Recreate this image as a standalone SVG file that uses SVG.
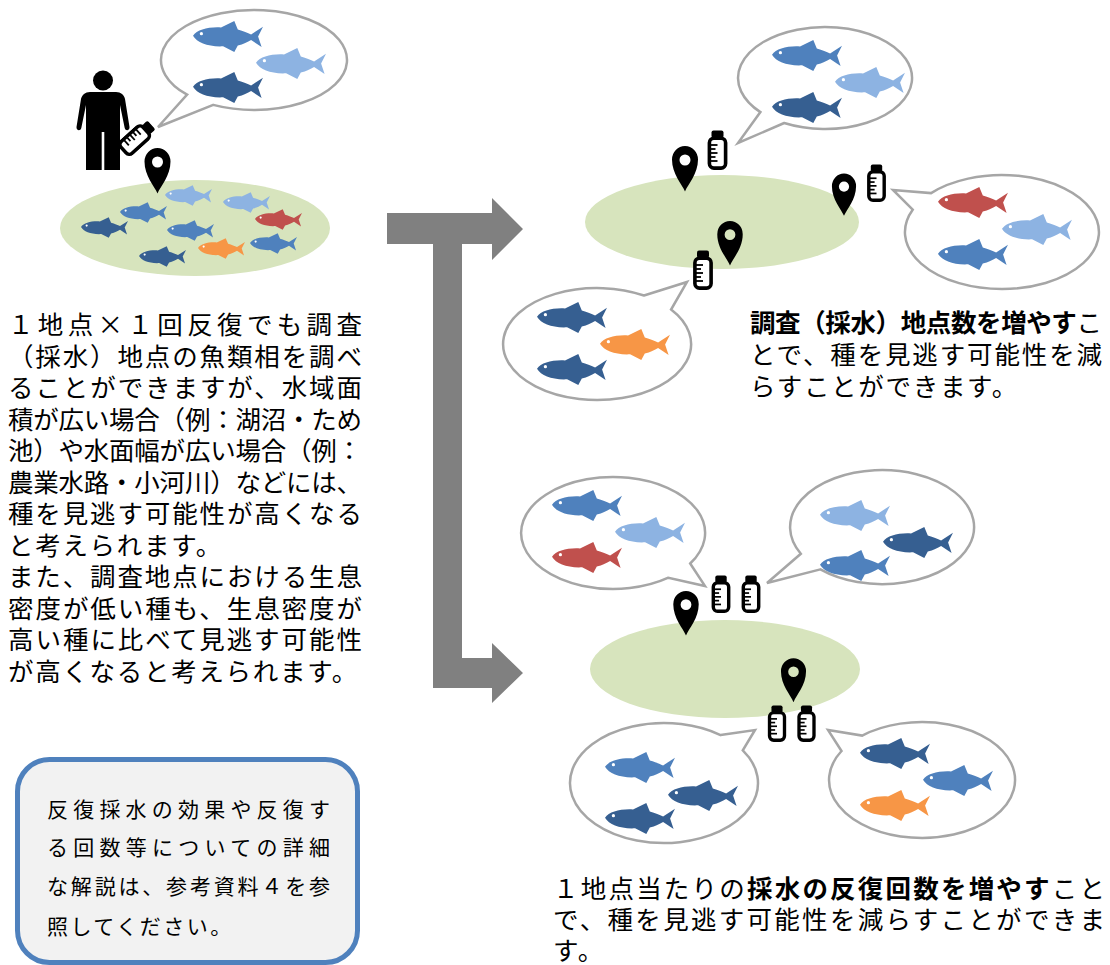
<svg xmlns="http://www.w3.org/2000/svg" xmlns:xlink="http://www.w3.org/1999/xlink" width="1110" height="965" viewBox="0 0 1110 965">
  <style>
    .bubble { fill: #ffffff; stroke: #A6A6A6; stroke-width: 2.5; stroke-linejoin: miter; }
    .pond { fill: #D7E4BD; }
    .arrow { fill: #808080; }
    .dk { fill: #365F91; }
    .md { fill: #4F81BD; }
    .lt { fill: #8DB3E2; }
    .rd { fill: #C0504D; }
    .or { fill: #F79646; }
    .ink { fill: #000000; }
    .txt { font-family: "Noto Sans CJK JP", "Noto Sans", sans-serif; font-size: 25.5px; fill: #000000; }
    .small { font-size: 21px; }
    .b { font-weight: bold; }
    .note { fill: #F2F2F2; stroke: #4F81BD; stroke-width: 5; }
  </style>
  <defs>
    <!-- fish facing left -->
    <symbol id="fish" viewBox="0 0 100 44">
      <path d="M0,21 C6,12 22,8 40,9 L59,0 L64,12 C72,14 78,17 83,19 L100,8 L93,22 L98,37 L83,27 C78,30 72,33 64,35 L59,44 L43,36 C22,37 6,31 0,21 Z"/>
      <circle cx="12" cy="18" r="2.3" fill="#ffffff"/>
    </symbol>
    <!-- map pin with hollow centre -->
    <symbol id="pin" viewBox="0 0 28 47">
      <path fill="#000000" fill-rule="evenodd" d="M14,46.5 C11,39 1,29 1,14.5 A13,13.5 0 0 1 27,14.5 C27,29 17,39 14,46.5 Z M14,9.5 A5.5,5.5 0 1 0 14,20.5 A5.5,5.5 0 1 0 14,9.5 Z"/>
    </symbol>
    <!-- sampling bottle -->
    <symbol id="bottle" viewBox="0 0 20 40">
      <rect x="4" y="0.5" width="12" height="7.5" rx="2" fill="#000000"/>
      <rect x="1.9" y="8.2" width="16.2" height="29.9" rx="4.5" fill="#ffffff" stroke="#000000" stroke-width="3.6"/>
      <g stroke="#000000" stroke-width="1.8">
        <line x1="3" y1="15" x2="10" y2="15"/>
        <line x1="3" y1="19" x2="8" y2="19"/>
        <line x1="3" y1="23" x2="10" y2="23"/>
        <line x1="3" y1="27" x2="8" y2="27"/>
        <line x1="3" y1="31" x2="10" y2="31"/>
      </g>
    </symbol>
  </defs>

  <!-- connectors: branching arrow -->
  <g id="connectors">
    <polygon class="arrow" points="387,213 492,213 492,198 523,229 492,260 492,244 462,244 462,658 492,658 492,643 523,673 492,703 492,688 433,688 433,244 387,244"/>
  </g>

  <!-- single sampling point -->
  <g id="bubble-single">
    <path class="bubble" d="M213.2,104.9 L158,127 L187.1,94.7 A93,50 0 1 1 213.2,104.9 Z"/>
    <use href="#fish" class="md" x="193" y="21" width="70" height="31"/>
    <use href="#fish" class="lt" x="256" y="48" width="70" height="31"/>
    <use href="#fish" class="dk" x="193" y="72" width="70" height="31"/>
  </g>

  <g id="person">
    <circle class="ink" cx="103" cy="80.5" r="10"/>
    <path class="ink" d="M90,92 H116 C121,92 124,95 125,99 L129.5,127 C130,130.5 125.5,131.5 124.7,128 L120,105 V170 H104.3 V132 H101.7 V170 H86 V105 L81.3,128 C80.5,131.5 76,130.5 76.5,127 L81,99 C82,95 85,92 90,92 Z"/>
    <use href="#bottle" width="20" height="40" transform="translate(137,138) rotate(48) translate(-10,-20)"/>
  </g>

  <g id="pond-single">
    <ellipse class="pond" cx="195" cy="228" rx="135" ry="48"/>
    <use href="#fish" class="lt" x="165" y="185" width="47" height="21"/>
    <use href="#fish" class="lt" x="223" y="192" width="47" height="21"/>
    <use href="#fish" class="md" x="120" y="202" width="47" height="21"/>
    <use href="#fish" class="rd" x="255" y="209" width="47" height="21"/>
    <use href="#fish" class="dk" x="81" y="217" width="47" height="21"/>
    <use href="#fish" class="md" x="167" y="220" width="47" height="21"/>
    <use href="#fish" class="or" x="198" y="238" width="47" height="21"/>
    <use href="#fish" class="md" x="250" y="233" width="47" height="21"/>
    <use href="#fish" class="dk" x="139" y="246" width="47" height="21"/>
    <use href="#pin" x="143" y="147" width="29" height="47"/>
  </g>

  <g id="text-left" class="txt">
    <text x="8" y="334" textLength="354" lengthAdjust="spacing">１地点×１回反復でも調査</text>
    <text x="8" y="365.5" textLength="354" lengthAdjust="spacing">（採水）地点の魚類相を調べ</text>
    <text x="8" y="397" textLength="354" lengthAdjust="spacing">ることができますが、水域面</text>
    <text x="8" y="428.5" textLength="354" lengthAdjust="spacing">積が広い場合（例：湖沼・ため</text>
    <text x="8" y="460" textLength="354" lengthAdjust="spacing">池）や水面幅が広い場合（例：</text>
    <text x="8" y="491.5" textLength="354" lengthAdjust="spacing">農業水路・小河川）などには、</text>
    <text x="8" y="523" textLength="354" lengthAdjust="spacing">種を見逃す可能性が高くなる</text>
    <text x="8" y="554.5" letter-spacing="1.7">と考えられます。</text>
    <text x="8" y="586" textLength="354" lengthAdjust="spacing">また、調査地点における生息</text>
    <text x="8" y="617.5" textLength="354" lengthAdjust="spacing">密度が低い種も、生息密度が</text>
    <text x="8" y="649" textLength="354" lengthAdjust="spacing">高い種に比べて見逃す可能性</text>
    <text x="8" y="680.5" letter-spacing="1.7">が高くなると考えられます。</text>
  </g>

  <g id="note-box">
    <rect class="note" x="17.5" y="759.5" width="340" height="203" rx="32"/>
    <g class="txt small">
      <text x="47" y="817" textLength="283" lengthAdjust="spacing">反復採水の効果や反復す</text>
      <text x="47" y="855" textLength="283" lengthAdjust="spacing">る回数等についての詳細</text>
      <text x="47" y="894" textLength="283" lengthAdjust="spacing">な解説は、参考資料４を参</text>
      <text x="47" y="934" letter-spacing="2.5">照してください。</text>
    </g>
  </g>

  <!-- more sampling points -->
  <g id="pond-points">
    <ellipse class="pond" cx="722" cy="222" rx="137" ry="47"/>
    <use href="#pin" x="671" y="145" width="28" height="47"/>
    <use href="#bottle" x="707" y="130" width="21" height="40"/>
    <use href="#pin" x="831" y="172" width="26" height="45"/>
    <use href="#bottle" x="867" y="163" width="19" height="40"/>
    <use href="#pin" x="716" y="220" width="28" height="46"/>
    <use href="#bottle" x="693" y="250" width="20" height="40"/>
  </g>

  <g id="bubble-points-1">
    <path class="bubble" d="M784.2,123 L738,143 L760.4,112.1 A87,51 0 1 1 784.2,123 Z"/>
    <use href="#fish" class="md" x="772" y="40" width="70" height="31"/>
    <use href="#fish" class="lt" x="835" y="67" width="70" height="31"/>
    <use href="#fish" class="dk" x="772" y="92" width="70" height="31"/>
  </g>

  <g id="bubble-points-2">
    <path class="bubble" d="M912.7,209.7 L893,190 L931.1,193.1 A97,57 0 1 1 912.7,209.7 Z"/>
    <use href="#fish" class="rd" x="938" y="187" width="70" height="31"/>
    <use href="#fish" class="lt" x="1002" y="214" width="70" height="31"/>
    <use href="#fish" class="md" x="938" y="239" width="70" height="31"/>
  </g>

  <g id="bubble-points-3">
    <path class="bubble" d="M644,295.5 L687,282 L671.1,309.5 A94,56 0 1 1 644,295.5 Z"/>
    <use href="#fish" class="dk" x="537" y="302" width="70" height="31"/>
    <use href="#fish" class="or" x="600" y="329" width="70" height="31"/>
    <use href="#fish" class="dk" x="537" y="354" width="70" height="31"/>
  </g>

  <g id="text-points" class="txt">
    <text x="750" y="332" textLength="352" lengthAdjust="spacing"><tspan class="b">調査（採水）地点数を増やす</tspan>こ</text>
    <text x="750" y="364" textLength="352" lengthAdjust="spacing">とで、種を見逃す可能性を減</text>
    <text x="750" y="396" letter-spacing="1.7">らすことができます。</text>
  </g>

  <!-- repeated sampling -->
  <g id="pond-repeats">
    <ellipse class="pond" cx="725" cy="669" rx="135" ry="49"/>
    <use href="#pin" x="672" y="590" width="28" height="46"/>
    <use href="#bottle" x="710" y="575" width="22" height="38"/>
    <use href="#bottle" x="740" y="575" width="22" height="38"/>
    <use href="#pin" x="780" y="657" width="27" height="46"/>
    <use href="#bottle" x="767" y="705" width="20" height="37"/>
    <use href="#bottle" x="796" y="705" width="21" height="37"/>
  </g>

  <g id="bubble-repeats-1">
    <path class="bubble" d="M690.2,563.5 L705,586 L668.4,577.7 A92,56 0 1 1 690.2,563.5 Z"/>
    <use href="#fish" class="md" x="552" y="490" width="70" height="31"/>
    <use href="#fish" class="lt" x="615" y="517" width="70" height="31"/>
    <use href="#fish" class="rd" x="552" y="542" width="70" height="31"/>
  </g>

  <g id="bubble-repeats-2">
    <path class="bubble" d="M820.4,569.4 L767,583 L800.8,553.8 A92,57 0 1 1 820.4,569.4 Z"/>
    <use href="#fish" class="lt" x="820" y="500" width="70" height="31"/>
    <use href="#fish" class="dk" x="883" y="527" width="70" height="31"/>
    <use href="#fish" class="md" x="820" y="550" width="70" height="31"/>
  </g>

  <g id="bubble-repeats-3">
    <path class="bubble" d="M720.6,735.1 L755,730 L742.8,750.3 A94,60 0 1 1 720.6,735.1 Z"/>
    <use href="#fish" class="md" x="605" y="752" width="70" height="31"/>
    <use href="#fish" class="dk" x="668" y="780" width="70" height="31"/>
    <use href="#fish" class="dk" x="605" y="803" width="70" height="31"/>
  </g>

  <g id="bubble-repeats-4">
    <path class="bubble" d="M841.5,751 L828,730 L862.2,735.6 A93,58 0 1 1 841.5,751 Z"/>
    <use href="#fish" class="dk" x="860" y="738" width="70" height="31"/>
    <use href="#fish" class="md" x="923" y="765" width="70" height="31"/>
    <use href="#fish" class="or" x="860" y="790" width="70" height="31"/>
  </g>

  <g id="text-repeats" class="txt">
    <text x="553" y="898" textLength="552" lengthAdjust="spacing">１地点当たりの<tspan class="b">採水の反復回数を増やす</tspan>こと</text>
    <text x="553" y="929" textLength="552" lengthAdjust="spacing">で、種を見逃す可能性を減らすことができま</text>
    <text x="553" y="960" letter-spacing="1.7">す。</text>
  </g>
</svg>
